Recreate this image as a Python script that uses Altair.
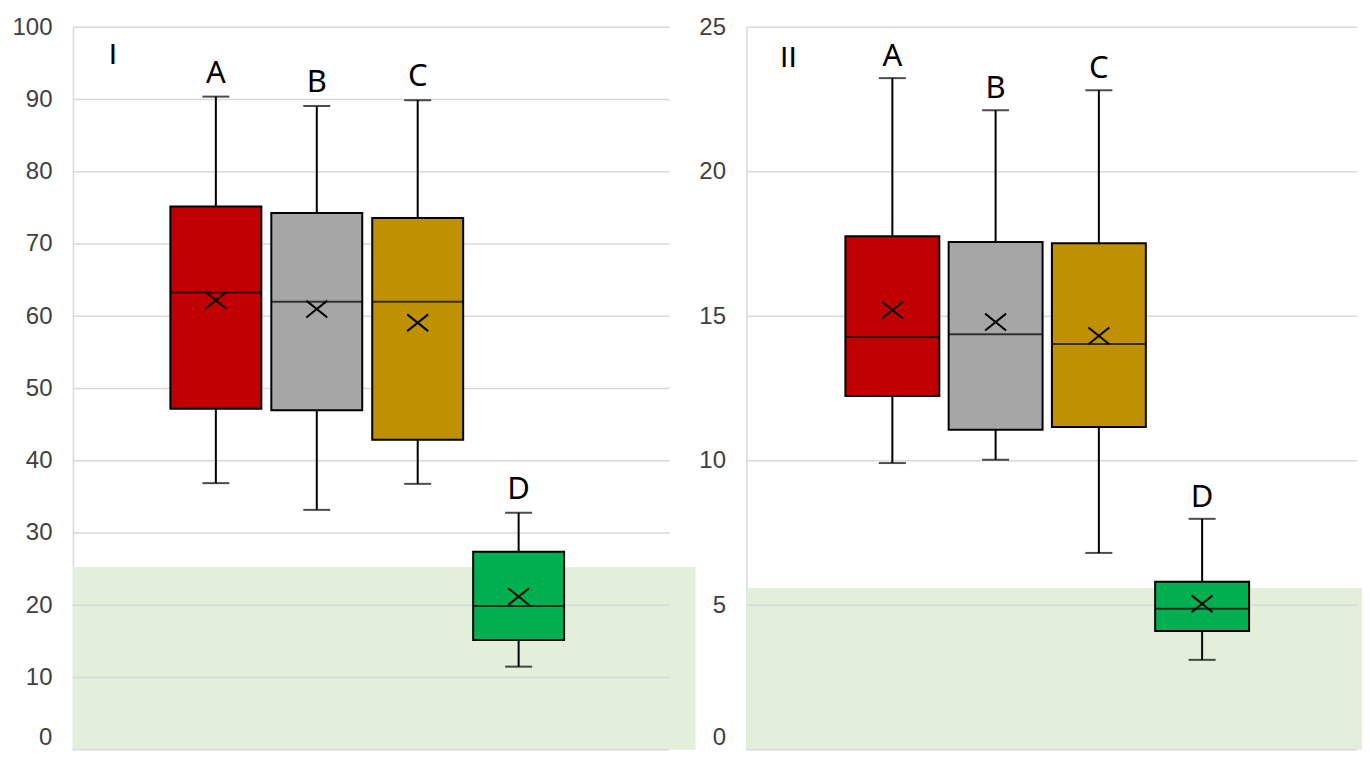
import altair as alt
import pandas as pd

cats = ["A", "B", "C", "D"]
colors = ["#C00000", "#A6A6A6", "#BF9000", "#00B050"]

# Panel I
p1_low = [36.9, 33.2, 36.8, 11.5]
p1_q1 = [47.2, 47.0, 42.9, 15.2]
p1_med = [63.3, 62.0, 62.0, 19.9]
p1_mean = [62.2, 61.0, 59.1, 21.2]
p1_q3 = [75.2, 74.3, 73.6, 27.4]
p1_high = [90.4, 89.1, 89.9, 32.8]
p1_band = 25.3
p1_ticks = [0, 10, 20, 30, 40, 50, 60, 70, 80, 90, 100]

# Panel II
p2_low = [9.92, 10.03, 6.81, 3.11]
p2_q1 = [12.24, 11.07, 11.17, 4.11]
p2_med = [14.28, 14.38, 14.04, 4.88]
p2_mean = [15.21, 14.80, 14.32, 5.05]
p2_q3 = [17.77, 17.57, 17.53, 5.81]
p2_high = [23.24, 22.13, 22.82, 7.99]
p2_band = 5.6
p2_ticks = [0, 5, 10, 15, 20, 25]

XPATH = "M-1,-0.8L1,0.8M-1,0.8L1,-0.8"
GRID = "#D9D9D9"


def panel(name, low, q1, med, mean, q3, high, band, ticks, width, height,
          box, xdom, band_extra, label_dy, name_x, name_y):
    df = pd.DataFrame({"cat": cats, "idx": list(range(len(cats))),
                       "color": colors, "low": low, "q1": q1,
                       "med": med, "mean": mean, "q3": q3, "high": high})
    yscale = alt.Scale(domain=[ticks[0], ticks[-1]], nice=False, zero=True,
                       padding=0)
    yaxis = alt.Axis(values=ticks, grid=False, ticks=False, domain=True,
                     domainColor=GRID, domainWidth=1.5, title=None,
                     labelFont="Liberation Sans", labelFontSize=24,
                     labelColor="#404040", labelPadding=21,
                     labelBaseline=alt.expr(
                         "datum.value == 0 ? 'bottom' : 'middle'"))

    def Y(f):
        return alt.Y(f, type="quantitative", scale=yscale, axis=yaxis)

    x = alt.X("idx:Q", axis=None, scale=alt.Scale(domain=xdom, nice=False,
                                                   zero=False, padding=0))

    bg = alt.Chart(pd.DataFrame({"top": [band]})).mark_rect(
        color="#E2EFDA").encode(
        x=alt.value(0), x2=alt.value(width + band_extra),
        y=Y("top"), y2=alt.datum(0))

    grid = alt.Chart(pd.DataFrame({"v": ticks})).mark_rule(
        color=GRID, strokeWidth=1.5).encode(
        x=alt.value(0), x2=alt.value(width), y=Y("v"))

    base = alt.Chart(df)
    whisk = base.mark_rule(color="black", strokeWidth=2).encode(
        x=x, y=Y("low"), y2="high")
    cap_lo = base.mark_tick(color="black", size=27, thickness=2,
                            orient="horizontal").encode(x=x, y=Y("low"))
    cap_hi = base.mark_tick(color="black", size=27, thickness=2,
                            orient="horizontal").encode(x=x, y=Y("high"))
    boxes = base.mark_bar(size=box, stroke="black", strokeWidth=2,
                          orient="vertical").encode(
        x=x, y=Y("q1"), y2="q3", color=alt.Color("color:N", scale=None))
    medl = base.mark_tick(color="black", size=box, thickness=2,
                          orient="horizontal").encode(x=x, y=Y("med"))
    meanp = base.mark_point(shape=XPATH, size=440, stroke="black",
                            strokeWidth=2, filled=False, opacity=1).encode(
        x=x, y=Y("mean"))
    labels = base.mark_text(font="Noto Sans", fontSize=31, color="black",
                            baseline="alphabetic", dy=label_dy).encode(
        x=x, y=Y("high"), text="cat:N")
    title = alt.Chart(pd.DataFrame({"t": [name]})).mark_text(
        font="Liberation Sans", fontSize=30, color="black").encode(
        x=alt.value(name_x), y=alt.value(name_y), text="t:N")

    return alt.layer(bg, grid, whisk, cap_lo, cap_hi, boxes, medl, meanp,
                     labels, title).properties(width=width, height=height)


left = panel("I", p1_low, p1_q1, p1_med, p1_mean, p1_q3, p1_high, p1_band,
             p1_ticks, 597, 723, 91, [-1.416, 4.495], 26, -14, 40, 28)
right = panel("II", p2_low, p2_q1, p2_med, p2_mean, p2_q3, p2_high, p2_band,
              p2_ticks, 611, 723, 94, [-1.413, 4.5], 13, -12, 42, 31)

chart = alt.hconcat(left, right, spacing=3).properties(
    padding={"left": 3, "top": 7, "right": -8, "bottom": 0}
).configure_view(stroke=None)

chart.save("out.html", embed_options={"renderer": "svg", "actions": False})
